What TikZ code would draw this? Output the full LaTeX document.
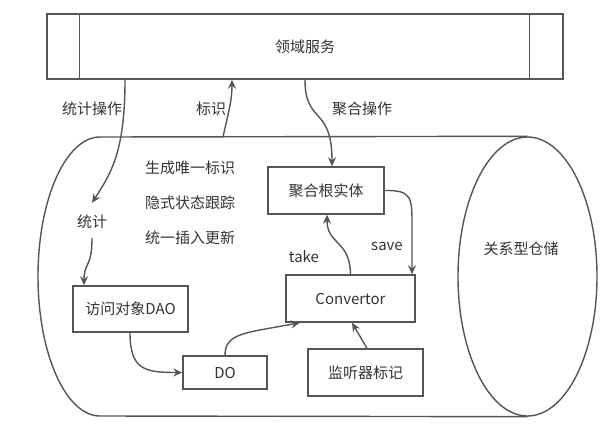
\documentclass[tikz,border=0pt]{standalone}
\usepackage{fontspec}
\setmainfont{Noto Sans CJK SC}
\usetikzlibrary{arrows.meta,shapes.geometric}
\definecolor{ln}{HTML}{555555}
\definecolor{tx}{HTML}{333333}
\begin{document}
\begin{tikzpicture}[x=1pt,y=-1pt,
  every node/.style={text=tx,font=\fontsize{15}{16}\selectfont},
  box/.style={draw=ln,line width=1.4pt,minimum height=47pt,inner sep=0pt},
  lbl/.style={inner sep=0pt},
  arr/.style={draw=ln,line width=1.4pt,-{Stealth[length=9pt,width=8pt,inset=3pt]}},
  plain/.style={draw=ln,line width=1.4pt}]
\useasboundingbox (0,0) rectangle (609,428);
% domain service
\node[box,minimum width=516pt,minimum height=65pt] (svc) at (305,46.5) {领域服务};
\draw[plain] ([xshift=33pt]svc.north west) -- ([xshift=33pt]svc.south west);
\draw[plain] ([xshift=-34pt]svc.north east) -- ([xshift=-34pt]svc.south east);
% cylinder
\node[draw=ln,line width=1.4pt,ellipse,minimum width=139pt,minimum height=279pt,inner sep=0pt] (repo) at (527.5,276.5) {};
\node[lbl] (repotxt) at (521,249) {关系型仓储};
\coordinate (ctl) at (100,137);
\draw[plain] (repo.north) -- (ctl) arc[start angle=90,end angle=270,x radius=62pt,y radius=139.5pt] -- (repo.south);
% boxes
\node[box,minimum width=116pt] (agg) at (326,190.5) {聚合根实体};
\node[box,minimum width=129pt] (conv) at (350.5,298.5) {Convertor};
\node[box,minimum width=115pt] (mon) at (365.5,372.5) {监听器标记};
\node[box,minimum width=115pt,minimum height=46pt] (dao) at (130.5,309) {访问对象DAO};
\node[box,minimum width=84pt,minimum height=33pt] (do) at (225,372.5) {DO};
% texts
\node[lbl] (tj) at (92,222) {统计};
\node[lbl] (t1) at (190,168) {生成唯一标识};
\node[lbl] (t2) at (190,203) {隐式状态跟踪};
\node[lbl] (t3) at (190,238) {统一插入更新};
\node[lbl] (ltjcz) at (92,109) {统计操作};
\node[lbl] (lbs) at (211,109) {标识};
\node[lbl] (ljh) at (362,109) {聚合操作};
\node[lbl] (ltake) at (304,257) {take};
\node[lbl] (lsave) at (387,246) {save};
% connectors
\coordinate (bsstart) at (223,137);
\draw[arr] ([xshift=-180pt]svc.south) .. controls (125,150) and (112,172) .. ([yshift=12pt]tj.north);
\draw[arr] ([yshift=-9pt]tj.south) .. controls (92,268) and (84,262) .. ([xshift=-46.5pt]dao.north);
\draw[arr] (bsstart) .. controls (229,110) and (232,100) .. ([xshift=-73pt]svc.south);
\draw[arr] (svc.south) .. controls (305,125) and (332,105) .. ([xshift=6pt]agg.north);
\draw[arr] (agg.east) .. controls (412,190) and (412,198) .. (412,225) -- ([xshift=61.5pt]conv.north);
\draw[arr] (conv.north) .. controls (350,240) and (327,245) .. ([xshift=1pt]agg.south);
\draw[arr] ([xshift=-0.5pt]dao.south) .. controls (130,370) and (145,372.5) .. (do.west);
\draw[arr] (do.north) .. controls (225,333) and (245,333) .. ([xshift=-50.5pt]conv.south);
\draw[arr] ([xshift=1.5pt]mon.north) -- ([xshift=1.5pt]conv.south);
\end{tikzpicture}
\end{document}
